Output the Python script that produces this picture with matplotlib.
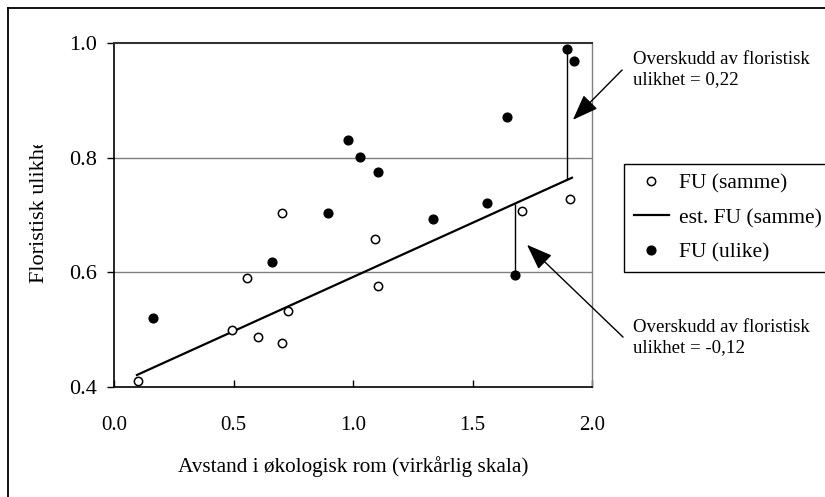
import matplotlib
matplotlib.use("Agg")
from matplotlib import pyplot as plt
from matplotlib.lines import Line2D
from matplotlib.transforms import Bbox, TransformedBbox

plt.rcParams['font.family'] = ['Liberation Serif', 'DejaVu Serif']

# FU (samme) - open circles
same_x = [0.10, 0.494, 0.556, 0.602, 0.704, 0.728, 0.704, 1.09, 1.106, 1.706, 1.908]
same_y = [0.410, 0.499, 0.590, 0.487, 0.477, 0.532, 0.703, 0.658, 0.576, 0.707, 0.728]

# FU (ulike) - filled circles
diff_x = [0.163, 0.662, 0.897, 0.98, 1.029, 1.106, 1.336, 1.56, 1.644, 1.678, 1.895, 1.925]
diff_y = [0.520, 0.618, 0.703, 0.831, 0.801, 0.775, 0.693, 0.721, 0.871, 0.595, 0.989, 0.969]

# est. FU (samme)
est_x = [0.096, 1.916]
est_y = [0.421, 0.765]

# residual segments
resid_x = [1.895, 1.678]
resid_top = [0.989, 0.720]
resid_bot = [0.763, 0.595]

fig = plt.figure(figsize=(8.25, 4.97), dpi=100)
ax = fig.add_axes([0.1382, 0.2213, 0.5794, 0.6922])

ax.axhline(0.6, color='#808080', lw=1, zorder=1)
ax.axhline(0.8, color='#808080', lw=1, zorder=1)

ax.plot(same_x, same_y, 'o', mfc='white', mec='black', ms=6, mew=1.1,
        label='FU (samme)', zorder=3)
ax.plot(est_x, est_y, '-', color='black', lw=1.6, label='est. FU (samme)', zorder=2)
ax.plot(diff_x, diff_y, 'o', mfc='black', mec='black', ms=6.3,
        label='FU (ulike)', zorder=3)
ax.vlines(resid_x, resid_bot, resid_top, color='black', lw=1, zorder=2)

ax.set_xlim(0, 2.0)
ax.set_ylim(0.4, 1.0)
ax.set_xticks([0.0, 0.5, 1.0, 1.5, 2.0])
ax.set_xticklabels(['0.0', '0.5', '1.0', '1.5', '2.0'])
ax.set_yticks([0.4, 0.6, 0.8, 1.0])
ax.set_yticklabels(['0.4', '0.6', '0.8', '1.0'])
ax.tick_params(axis='x', direction='in', length=5, width=1, pad=21, labelsize=15)
ax.tick_params(axis='y', direction='out', length=5, width=1, pad=7, labelsize=16)

ax.spines['left'].set_linewidth(1.2)
ax.spines['bottom'].set_linewidth(1.2)
ax.spines['top'].set_linewidth(1.5)
ax.spines['top'].set_color('#333333')
ax.spines['right'].set_color('#808080')
ax.spines['right'].set_linewidth(1)

ax.set_xlabel('Avstand i økologisk rom (virkårlig skala)', fontsize=15.3, labelpad=15)

ylab = fig.text(40 / 825, 1 - 283 / 497, 'Floristisk ulikhet', rotation=90,
                ha='center', va='bottom', fontsize=16)
clip = TransformedBbox(Bbox([[0, 0], [1, 1 - 145 / 497]]), fig.transFigure)
ylab.set_clip_box(clip)
ylab.set_clip_on(True)

ax.annotate('', xy=(1.92, 0.866), xytext=(2.126, 0.953), annotation_clip=False,
            arrowprops=dict(arrowstyle='-|>,head_length=0.8,head_width=0.3',
                            color='black', lw=1, mutation_scale=20, shrinkA=0, shrinkB=0))
ax.annotate('', xy=(1.728, 0.648), xytext=(2.13, 0.487), annotation_clip=False,
            arrowprops=dict(arrowstyle='-|>,head_length=0.8,head_width=0.3',
                            color='black', lw=1, mutation_scale=20, shrinkA=0, shrinkB=0))

fig.text(633 / 825, 1 - 51 / 497, 'Overskudd av floristisk\nulikhet = 0,22',
         ha='left', va='top', fontsize=13.6, linespacing=1.2)
fig.text(633 / 825, 1 - 319 / 497, 'Overskudd av floristisk\nulikhet = -0,12',
         ha='left', va='top', fontsize=13.6, linespacing=1.25)

leg = ax.legend(loc='upper left', bbox_to_anchor=(624 / 825, 1 - 164 / 497),
                bbox_transform=fig.transFigure, fontsize=15.5, frameon=True,
                fancybox=False, framealpha=1, edgecolor='black',
                borderaxespad=0, borderpad=0.45, handlelength=1.63,
                handletextpad=0.47, labelspacing=0.66)
leg.get_frame().set_linewidth(1)

fig.add_artist(Line2D([8 / 825, 8 / 825], [0, 1 - 8 / 497], color='black', lw=1.3))
fig.add_artist(Line2D([8 / 825, 1], [1 - 8 / 497, 1 - 8 / 497], color='black', lw=1.3))

plt.savefig('out.png', dpi=100)
